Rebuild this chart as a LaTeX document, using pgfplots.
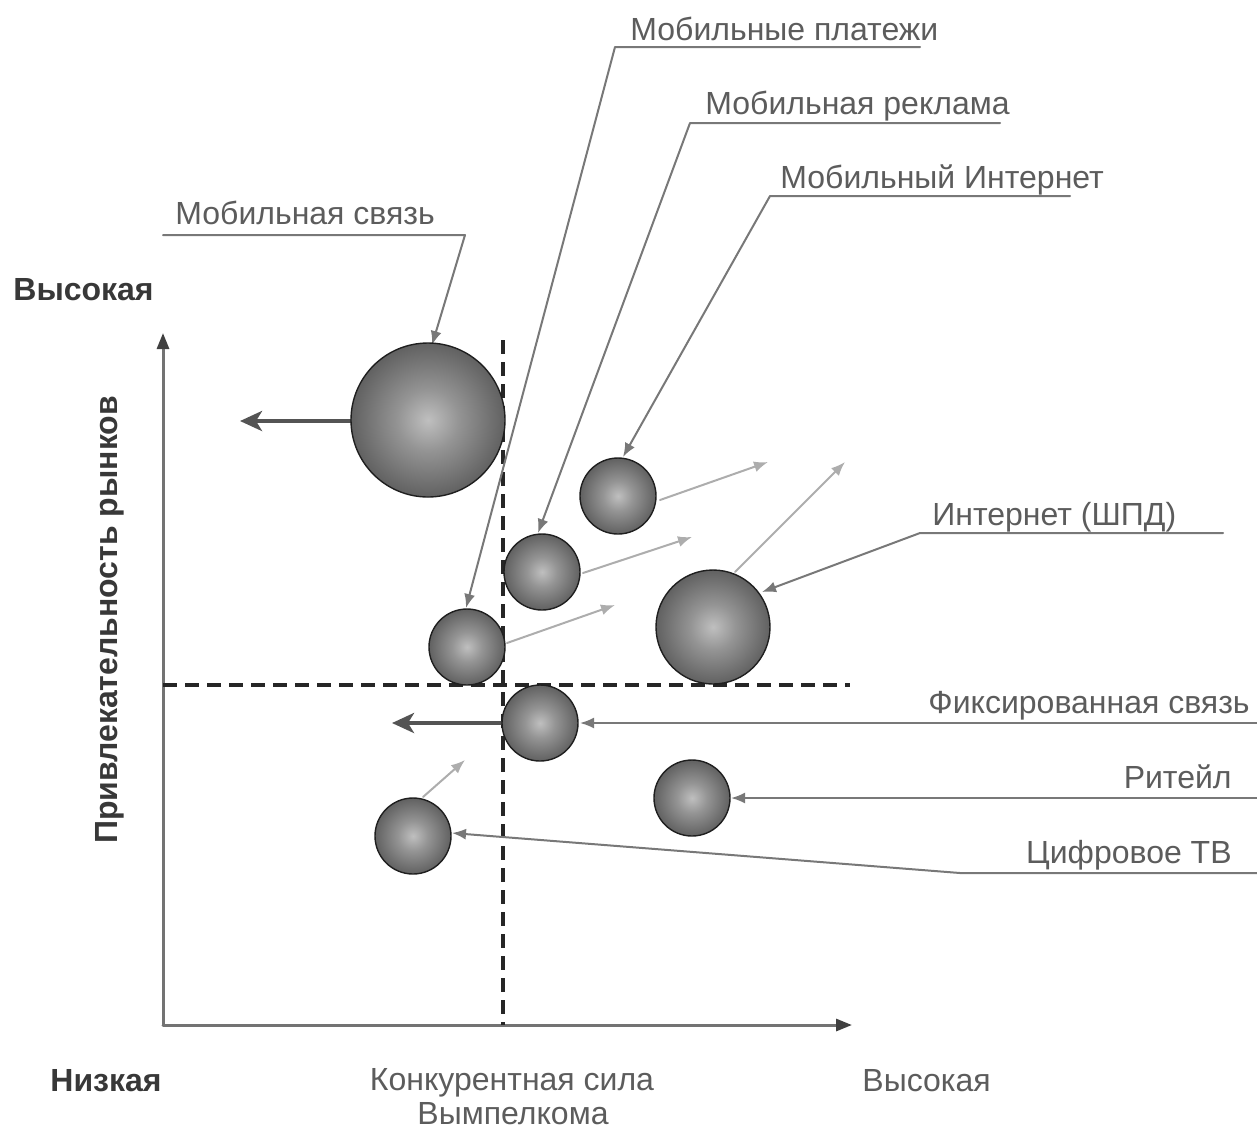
\documentclass[border=0pt]{standalone}
\usepackage{fontspec}
\setmainfont{Liberation Sans}
\usepackage{pgfplots}
\pgfplotsset{compat=1.18}
\usetikzlibrary{arrows.meta}

% grey sphere: light centre, dark rim
\pgfdeclareradialshading{spheregray}{\pgfpointorigin}{%
  color(0bp)=(black!25); color(10bp)=(black!42); color(25bp)=(black!62);
  color(38bp)=(black!72); color(46bp)=(black!80); color(50bp)=(black!90)}

\pgfdeclareplotmark{sphere}{%
  \pgfpathcircle{\pgfpointorigin}{\pgfplotmarksize}%
  \pgfshadepath{spheregray}{0}%
  \pgfpathcircle{\pgfpointorigin}{\pgfplotmarksize}%
  \pgfusepath{stroke}%
}

\definecolor{lead}{gray}{0.47}
\definecolor{trend}{gray}{0.68}
\definecolor{move}{gray}{0.33}
\definecolor{axisgray}{gray}{0.45}
\definecolor{txt}{gray}{0.36}
\definecolor{txtbold}{gray}{0.22}

\tikzset{
  lbl/.style={font=\fontsize{16pt}{19pt}\selectfont, text=txt, inner sep=0pt},
  lblb/.style={font=\fontsize{16pt}{19pt}\selectfont\bfseries, text=txtbold, inner sep=0pt},
}

\begin{document}
\begin{tikzpicture}[x=1pt,y=1pt]
\useasboundingbox (0,0) rectangle (628.5,565.5);
\begin{axis}[
  at={(0,0)}, anchor=south west,
  width=628.5pt, height=565.5pt, scale only axis,
  xmin=0, xmax=1257, ymin=0, ymax=1131, y dir=reverse,
  hide axis, clip=false,
  every axis plot/.append style={line join=round, line cap=round},
]
% axes
\addplot[axisgray, line width=1.5pt, -{Triangle[length=8pt,width=6pt,color=black!75]}]
  coordinates {(163,1025) (163,333)};
\addplot[axisgray, line width=1.5pt, -{Triangle[length=8pt,width=6pt,color=black!75]}]
  coordinates {(163,1025) (852,1025)};

% markets, grouped by bubble size
\addplot[only marks, mark=sphere, mark size=38.5pt, draw=black!88, line width=0.7pt]
  coordinates {(428,420)};
\addplot[only marks, mark=sphere, mark size=28.5pt, draw=black!88, line width=0.7pt]
  coordinates {(713,627)};
\addplot[only marks, mark=sphere, mark size=19pt, draw=black!88, line width=0.7pt]
  coordinates {(618,496) (542,572) (467,647) (540,723) (692,798) (413,836)};

% quadrant borders
\addplot[black!85, line width=1.6pt, dash pattern=on 7pt off 4pt, line cap=butt]
  coordinates {(503,340) (503,1025)};
\addplot[black!85, line width=1.6pt, dash pattern=on 7pt off 4pt, line cap=butt]
  coordinates {(163,685) (850,685)};

% expected movement
\addplot[trend, line width=1pt, -{Latex[length=7pt,width=5.5pt]}] coordinates {(660,500) (768,462)};
\addplot[trend, line width=1pt, -{Latex[length=7pt,width=5.5pt]}] coordinates {(583,573) (692,537)};
\addplot[trend, line width=1pt, -{Latex[length=7pt,width=5.5pt]}] coordinates {(507,643) (615,605)};
\addplot[trend, line width=1pt, -{Latex[length=7pt,width=5.5pt]}] coordinates {(735,572) (845,462)};
\addplot[trend, line width=1pt, -{Latex[length=7pt,width=5.5pt]}] coordinates {(423,797) (465,760)};
\addplot[move, line width=2pt, -{Stealth[length=11pt,width=10pt,inset=3pt]}] coordinates {(352,421) (240,421)};
\addplot[move, line width=2pt, -{Stealth[length=11pt,width=10pt,inset=3pt]}] coordinates {(503,723) (392,723)};

% leader lines
\addplot[lead, line width=1pt, -{Latex[length=7pt,width=5.5pt]}] coordinates {(163,235) (465,235) (432,345)};
\addplot[lead, line width=1pt, -{Latex[length=7pt,width=5.5pt]}] coordinates {(920,47) (615,47) (466,608)};
\addplot[lead, line width=1pt, -{Latex[length=7pt,width=5.5pt]}] coordinates {(1000,123) (690,123) (538,533)};
\addplot[lead, line width=1pt, -{Latex[length=7pt,width=5.5pt]}] coordinates {(1070,196) (770,196) (623,457)};
\addplot[lead, line width=1pt, -{Latex[length=7pt,width=5.5pt]}] coordinates {(1223,533) (920,533) (762,592)};
\addplot[lead, line width=1pt, -{Latex[length=7pt,width=5.5pt]}] coordinates {(1257,723) (580,723)};
\addplot[lead, line width=1pt, -{Latex[length=7pt,width=5.5pt]}] coordinates {(1257,798) (731,798)};
\addplot[lead, line width=1pt, -{Latex[length=7pt,width=5.5pt]}] coordinates {(1257,873) (960,873) (452,833)};

% labels
\node[lbl, anchor=base west] at (axis cs:175,224) {Мобильная связь};
\node[lbl, anchor=base west] at (axis cs:630,40) {Мобильные платежи};
\node[lbl, anchor=base west] at (axis cs:705,114) {Мобильная реклама};
\node[lbl, anchor=base west] at (axis cs:780,188) {Мобильный Интернет};
\node[lbl, anchor=base west] at (axis cs:932,525) {Интернет (ШПД)};
\node[lbl, anchor=base east] at (axis cs:1250,713) {Фиксированная связь};
\node[lbl, anchor=base east] at (axis cs:1232,788) {Ритейл};
\node[lbl, anchor=base east] at (axis cs:1232,863) {Цифровое ТВ};

\node[lblb, anchor=base west] at (axis cs:13,300) {Высокая};
\node[lblb, anchor=base west] at (axis cs:50,1091) {Низкая};
\node[lblb, rotate=90] at (axis cs:110,620) {Привлекательность рынков};
\node[lbl, anchor=base] at (axis cs:512,1090) {Конкурентная сила};
\node[lbl, anchor=base] at (axis cs:513,1124) {Вымпелкома};
\node[lbl, anchor=base west] at (axis cs:862,1091) {Высокая};
\end{axis}
\end{tikzpicture}
\end{document}
